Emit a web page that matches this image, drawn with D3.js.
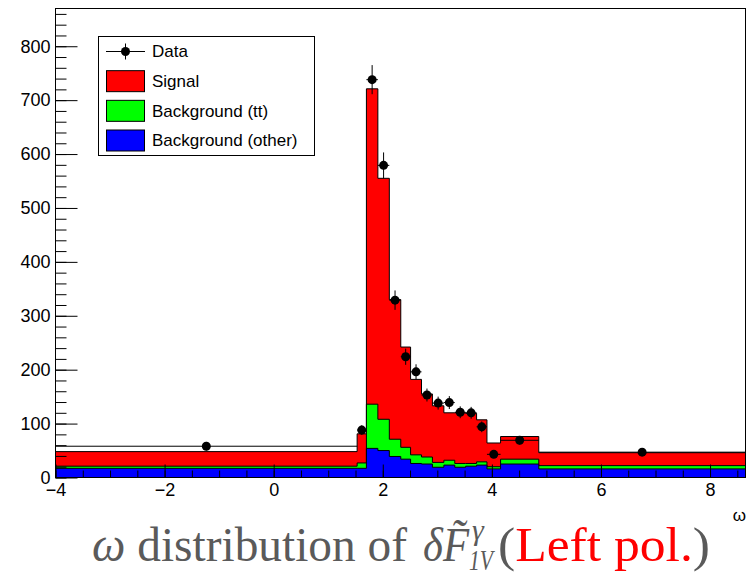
<!DOCTYPE html>
<html>
<head>
<meta charset="utf-8">
<script src="https://cdn.jsdelivr.net/npm/d3@7"></script>
<style>
  body { margin: 0; background: #fff; }
  svg { display: block; }
</style>
</head>
<body>
<div id="chart"></div>
<script>
// bin edges in omega (variable width bins)
const binEdges = [-4, 1.53, 1.70, 1.91, 2.12, 2.33, 2.51, 2.71, 2.91, 3.12, 3.32, 3.52, 3.72, 3.91, 4.16, 4.86, 8.65];

const dataCounts = [58, 88, 738, 579, 329, 224, 196, 153, 138, 139, 121, 120, 94, 43, 69, 47];
const dataErrors = [8, 9, 27, 24, 18, 15, 14, 12, 12, 12, 11, 11, 10, 7, 8, 7];

const bkgOther = [17, 17, 54, 50, 39, 34, 26, 25, 19, 23, 19, 21, 23, 16, 25, 16];
const bkgTT    = [4, 10, 82, 58, 32, 22, 16, 13, 9, 9, 7, 5, 6, 4, 9, 6];
const signal   = [27, 54, 585, 447, 259, 186, 140, 117, 105, 88, 94, 93, 78, 44, 42, 24];

const xTicks = [-4, -2, 0, 2, 4, 6, 8];
const yTicks = [0, 100, 200, 300, 400, 500, 600, 700, 800];

const legendLabels = ['Data', 'Signal', 'Background (tt)', 'Background (other)'];
const legendColors = [null, '#ff0000', '#00ff00', '#0000ff'];

const width = 747;
const height = 574;
const frame = { left: 55.5, right: 745.5, top: 8.5, bottom: 477.5 };

const svg = d3.select('#chart')
    .append('svg')
    .attr('width', width)
    .attr('height', height);

const x = d3.scaleLinear()
    .domain([-4, 8.65])
    .range([frame.left, frame.right]);

const y = d3.scaleLinear()
    .domain([0, 870])
    .range([frame.bottom, frame.top]);

// cumulative stack tops
const topOther = bkgOther;
const topTT = bkgOther.map((v, i) => v + bkgTT[i]);
const topAll = topTT.map((v, i) => v + signal[i]);

function stepPoints(tops) {
    const pts = [];
    tops.forEach((t, i) => {
        pts.push([binEdges[i], t]);
        pts.push([binEdges[i + 1], t]);
    });
    return pts;
}

const area = d3.area()
    .x(d => x(d[0]))
    .y0(y(0))
    .y1(d => y(d[1]));

const plot = svg.append('g');

[[topAll, '#ff0000'], [topTT, '#00ff00'], [topOther, '#0000ff']].forEach(([tops, color]) => {
    plot.append('path')
        .attr('d', area(stepPoints(tops)))
        .attr('fill', color)
        .attr('stroke', '#000')
        .attr('stroke-width', 1);
});

// data points with error bars
const pts = svg.append('g');
dataCounts.forEach((c, i) => {
    const lo = binEdges[i], hi = binEdges[i + 1];
    const cx = x((lo + hi) / 2);
    pts.append('line')
        .attr('x1', x(lo)).attr('x2', x(hi))
        .attr('y1', y(c)).attr('y2', y(c))
        .attr('stroke', '#000');
    pts.append('line')
        .attr('x1', cx).attr('x2', cx)
        .attr('y1', y(c - dataErrors[i])).attr('y2', y(c + dataErrors[i]))
        .attr('stroke', '#000');
    pts.append('circle')
        .attr('cx', cx).attr('cy', y(c))
        .attr('r', 4.5)
        .attr('fill', '#000');
});

// axes, ticks pointing into the frame
const yMinor = d3.range(0, 870, 20);
const xMinor = d3.range(-4, 8.65, 0.5);

svg.append('g')
    .attr('transform', `translate(${frame.left},0)`)
    .call(d3.axisLeft(y).tickValues(yMinor).tickSize(-11).tickFormat(''))
    .call(g => g.select('.domain').remove());

svg.append('g')
    .attr('class', 'y-axis')
    .attr('transform', `translate(${frame.left},0)`)
    .call(d3.axisLeft(y).tickValues(yTicks).tickSize(-22).tickPadding(5))
    .call(g => g.select('.domain').remove());

svg.append('g')
    .attr('transform', `translate(0,${frame.bottom})`)
    .call(d3.axisBottom(x).tickValues(xMinor).tickSize(-7).tickFormat(''))
    .call(g => g.select('.domain').remove());

svg.append('g')
    .attr('class', 'x-axis')
    .attr('transform', `translate(0,${frame.bottom})`)
    .call(d3.axisBottom(x).tickValues(xTicks).tickSize(-13).tickPadding(6))
    .call(g => g.select('.domain').remove());

svg.selectAll('.tick line').attr('stroke', '#000');
svg.selectAll('.y-axis text, .x-axis text')
    .attr('font-family', 'Liberation Sans, Arial, sans-serif')
    .attr('font-size', 18)
    .attr('fill', '#000');

svg.append('rect')
    .attr('x', frame.left).attr('y', frame.top)
    .attr('width', frame.right - frame.left)
    .attr('height', frame.bottom - frame.top)
    .attr('fill', 'none')
    .attr('stroke', '#000');

// axis title
svg.append('text')
    .attr('x', 746).attr('y', 521)
    .attr('text-anchor', 'end')
    .attr('font-family', 'Liberation Sans, Arial, sans-serif')
    .attr('font-size', 17)
    .text('ω');

// legend
const legend = svg.append('g');
legend.append('rect')
    .attr('x', 98.5).attr('y', 36.5)
    .attr('width', 216).attr('height', 119)
    .attr('fill', '#fff')
    .attr('stroke', '#000');

const rowY = d3.scalePoint().domain(legendLabels).range([51.5, 140.5]);

legendLabels.forEach((lab, i) => {
    const cy = rowY(lab);
    if (legendColors[i] === null) {
        legend.append('line')
            .attr('x1', 106).attr('x2', 145).attr('y1', cy).attr('y2', cy)
            .attr('stroke', '#000');
        legend.append('line')
            .attr('x1', 125.5).attr('x2', 125.5).attr('y1', cy - 8).attr('y2', cy + 8)
            .attr('stroke', '#000');
        legend.append('circle')
            .attr('cx', 125.5).attr('cy', cy).attr('r', 4.5).attr('fill', '#000');
    } else {
        legend.append('rect')
            .attr('x', 106.5).attr('y', cy - 10.5)
            .attr('width', 38).attr('height', 21)
            .attr('fill', legendColors[i])
            .attr('stroke', '#000');
    }
    legend.append('text')
        .attr('x', 152).attr('y', cy)
        .attr('dy', '0.35em')
        .attr('font-family', 'Liberation Sans, Arial, sans-serif')
        .attr('font-size', 17)
        .text(lab);
});

// caption below the plot
const capFont = 'Liberation Serif, Times New Roman, serif';
const capSize = 48;
const capY = 561;
const gray = '#5a5a5a';

function capText(xPos, yPos, size, txt, len) {
    const t = svg.append('text')
        .attr('x', xPos).attr('y', yPos)
        .attr('font-family', capFont).attr('font-size', size)
        .attr('fill', gray);
    if (len) t.attr('textLength', len).attr('lengthAdjust', 'spacingAndGlyphs');
    if (txt) t.text(txt);
    return t;
}

const cap1 = capText(92, capY, capSize, null, 315);
cap1.append('tspan').attr('font-style', 'italic').text('ω');
cap1.append('tspan').text(' distribution of');

capText(423, capY, capSize, 'δF\u0303', 46).attr('font-style', 'italic');
capText(472, capY - 21, 30, 'γ').attr('font-style', 'italic');
capText(469, capY + 9, 30, '1V', 24).attr('font-style', 'italic');

const cap2 = capText(498, capY, capSize, null, 212);
cap2.append('tspan').text('(');
cap2.append('tspan').attr('fill', '#ff0000').text('Left pol.');
cap2.append('tspan').text(')');
</script>
</body>
</html>
